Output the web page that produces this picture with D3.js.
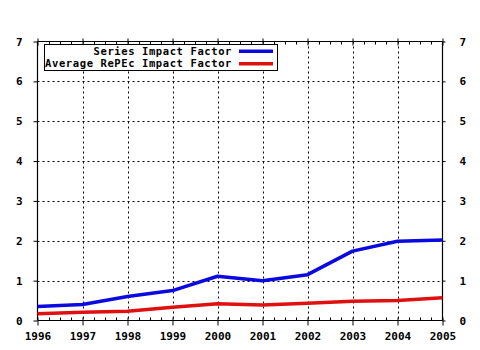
<!DOCTYPE html>
<html><head><meta charset="utf-8">
<script src="https://cdn.jsdelivr.net/npm/d3@7"></script>
<style>
html,body{margin:0;padding:0;background:#fff;}
svg text{font-family:"DejaVu Sans Mono","Liberation Mono",monospace;font-weight:bold;font-size:11px;fill:#000;}
svg text.lg{font-size:10.5px;letter-spacing:0.6px;}
</style></head>
<body>
<svg id="c" width="480" height="350"></svg>
<script>
const years = [1996,1997,1998,1999,2000,2001,2002,2003,2004,2005];
const seriesIF = [0.35,0.40,0.60,0.75,1.11,1.00,1.15,1.74,1.99,2.02];
const averageIF = [0.17,0.21,0.23,0.33,0.42,0.39,0.43,0.48,0.50,0.57];
const yTicks = [0,1,2,3,4,5,6,7];
const seriesNames = ["Series Impact Factor","Average RePEc Impact Factor"];
const seriesColors = ["#0a0ae0","#e01010"];

const svg = d3.select("#c");
const L=37.5, R=442.5, T=41.5, B=320.5;
const x = d3.scaleLinear().domain([1996,2005]).range([L,R]);
const y = d3.scaleLinear().domain([0,7]).range([B,T]);

// gridlines
const g = svg.append("g");
g.selectAll(".vg").data(years.slice(1,-1)).enter().append("line")
 .attr("x1",d=>Math.round(x(d))+0.5).attr("x2",d=>Math.round(x(d))+0.5)
 .attr("y1",T).attr("y2",B).attr("stroke","#000").attr("stroke-width",1).attr("stroke-dasharray","2,3");
g.selectAll(".hg").data(yTicks.slice(1,-1)).enter().append("line")
 .attr("y1",d=>Math.round(y(d))+0.5).attr("y2",d=>Math.round(y(d))+0.5)
 .attr("x1",L).attr("x2",R).attr("stroke","#000").attr("stroke-width",1).attr("stroke-dasharray","2,3");

// axes
const axB = d3.axisBottom(x).tickValues(years).tickFormat(d3.format("d")).tickSize(4).tickPadding(8);
const gb = svg.append("g").attr("transform",`translate(0,${B})`).call(axB);
const axT = d3.axisTop(x).tickValues(years).tickFormat("").tickSize(3);
const gt = svg.append("g").attr("transform",`translate(0,${T})`).call(axT);
const axL = d3.axisLeft(y).tickValues(yTicks).tickFormat(d3.format("d")).tickSize(4).tickPadding(11);
const gl = svg.append("g").attr("transform",`translate(${L},0)`).call(axL);
const axR = d3.axisRight(y).tickValues(yTicks).tickFormat(d3.format("d")).tickSize(3).tickPadding(14);
const gr = svg.append("g").attr("transform",`translate(${R},0)`).call(axR);
[gb,gt,gl,gr].forEach(a=>{
  a.selectAll(".domain").attr("stroke","#000").attr("stroke-width",1.2);
  a.selectAll(".tick line").attr("stroke","#000");
  a.selectAll("text").attr("fill","#000");
});
gb.selectAll(".domain").attr("d",`M${L},0H${R}`);
gt.selectAll(".domain").attr("d",`M${L},0H${R}`);
gl.selectAll(".domain").attr("d",`M0,${T}V${B}`);
gr.selectAll(".domain").attr("d",`M0,${T}V${B}`);
gb.selectAll(".tick line").attr("y1",-3).attr("y2",5);
gt.selectAll(".tick line").attr("y1",-3).attr("y2",4);
gb.selectAll("text").attr("dy","0.71em").attr("y",12);

// minor ticks (quarters) on top and bottom, inside
const minors=[];
years.slice(0,-1).forEach(yr=>{[0.25,0.5,0.75].forEach(f=>minors.push(yr+f));});
svg.append("g").selectAll("line").data(minors).enter().append("line")
 .attr("x1",d=>Math.round(x(d))+0.5).attr("x2",d=>Math.round(x(d))+0.5)
 .attr("y1",B).attr("y2",B-3).attr("stroke","#000");
svg.append("g").selectAll("line").data(minors).enter().append("line")
 .attr("x1",d=>Math.round(x(d))+0.5).attr("x2",d=>Math.round(x(d))+0.5)
 .attr("y1",T).attr("y2",T+3).attr("stroke","#000");

// lines
const line = d3.line().x((d,i)=>x(years[i])).y(d=>y(d));
[averageIF,seriesIF].forEach((vals,k)=>{
  svg.append("path").datum(vals).attr("d",line).attr("fill","none")
   .attr("stroke",seriesColors[1-k]).attr("stroke-width",3.5).attr("stroke-linejoin","round");
});

// legend
const lg = svg.append("g");
lg.append("rect").attr("x",44.5).attr("y",44.5).attr("width",233).attr("height",26)
  .attr("fill","#fff").attr("stroke","#000").attr("stroke-width",1);
seriesNames.forEach((n,i)=>{
  const cy = 51.2 + i*12.6;
  lg.append("text").attr("class","lg").attr("x",232).attr("y",cy).attr("dy","0.35em").attr("text-anchor","end").text(n);
  lg.append("line").attr("x1",239).attr("x2",273).attr("y1",cy).attr("y2",cy)
    .attr("stroke",seriesColors[i]).attr("stroke-width",3.5);
});
</script>
</body></html>
